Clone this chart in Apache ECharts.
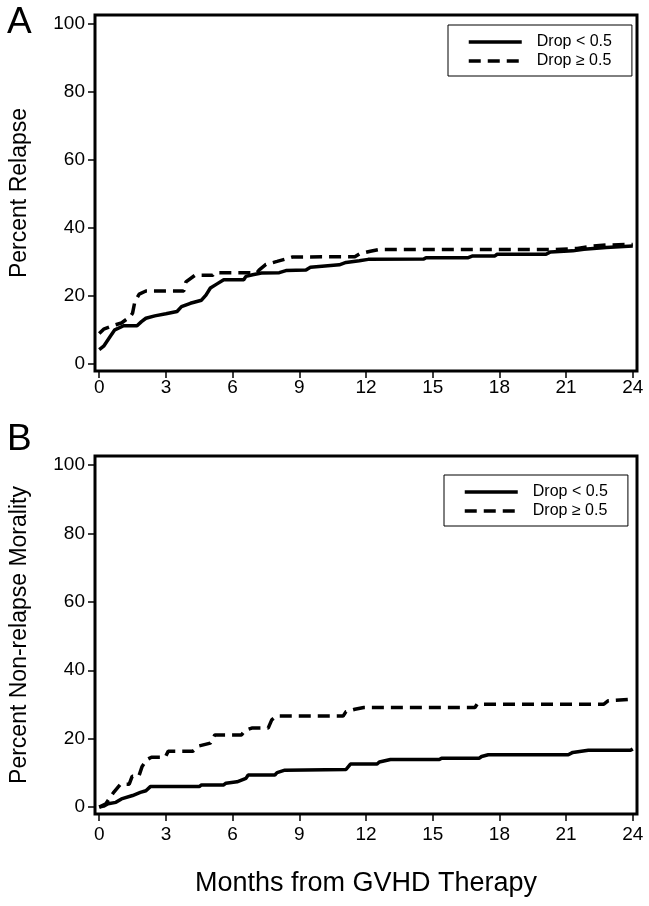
<!DOCTYPE html>
<html><head><meta charset="utf-8">
<script src="https://cdn.jsdelivr.net/npm/echarts@6/dist/echarts.min.js"></script>
<style>html,body{margin:0;padding:0;background:#fff}#c{width:649px;height:906px}</style>
</head><body><div id="c"></div>
<script>
// ---- data ----
const xTicks = [0, 3, 6, 9, 12, 15, 18, 21, 24];
const yTicks = [0, 20, 40, 60, 80, 100];
const seriesNames = ['Drop < 0.5', 'Drop \u2265 0.5'];
const panelLabels = ['A', 'B'];
const yTitles = ['Percent Relapse', 'Percent Non-relapse Morality'];
const xTitle = 'Months from GVHD Therapy';

// Panel A: relapse
const relapseLow = [[0,4.3],[0.2,5.3],[0.5,8.2],[0.7,10.1],[1.1,11.3],[1.7,11.3],[1.9,12.5],[2.1,13.5],[2.5,14.2],[3.0,14.8],[3.5,15.5],[3.7,16.9],[4.1,17.9],[4.6,18.8],[4.8,20.3],[5.0,22.4],[5.3,23.6],[5.6,24.8],[6.5,24.8],[6.6,25.8],[6.9,26.3],[7.3,26.8],[8.1,26.9],[8.4,27.5],[9.3,27.7],[9.5,28.5],[10.8,29.2],[11.1,29.9],[11.7,30.4],[12.1,30.8],[14.6,30.9],[14.7,31.3],[16.6,31.3],[16.8,31.8],[17.8,31.8],[17.9,32.3],[20.1,32.3],[20.3,33.0],[21.3,33.3],[21.8,33.8],[22.8,34.3],[24,34.7]];
const relapseHigh = [[0,9.0],[0.2,10.3],[0.6,11.3],[1.0,12.1],[1.4,14.0],[1.5,15.0],[1.6,18.3],[1.8,20.6],[2.1,21.5],[3.8,21.5],[3.9,24.2],[4.3,26.1],[5.1,26.1],[5.2,26.9],[7.1,26.9],[7.2,27.7],[7.5,29.3],[8.0,30.2],[8.7,31.5],[11.5,31.6],[11.7,32.4],[12.2,33.2],[12.6,33.7],[20.5,33.7],[21.5,34.0],[22.2,34.7],[22.8,35.0],[24,35.2]];

// Panel B: non-relapse mortality
const nrmLow = [[0,0],[0.2,0.3],[0.4,1.0],[0.75,1.4],[1.0,2.4],[1.5,3.4],[1.85,4.3],[2.1,4.8],[2.3,6.0],[4.5,6.0],[4.6,6.5],[5.6,6.5],[5.7,7.0],[6.2,7.4],[6.6,8.4],[6.7,9.4],[7.9,9.4],[8.0,10.1],[8.35,10.8],[11.1,11.0],[11.3,12.6],[12.5,12.6],[12.6,13.2],[13.1,13.9],[15.3,13.9],[15.4,14.3],[17.1,14.3],[17.2,14.8],[17.5,15.3],[21.1,15.3],[21.3,16.0],[22.0,16.6],[23.9,16.6],[24,17.0]];
const nrmHigh = [[0,0],[0.3,1.0],[0.45,2.5],[0.66,4.4],[0.96,6.7],[1.35,6.7],[1.48,9.0],[1.78,9.0],[1.93,11.9],[2.15,13.9],[2.35,14.6],[2.97,14.6],[3.1,16.3],[4.2,16.3],[4.5,17.9],[5.0,18.7],[5.2,21.1],[6.4,21.1],[6.55,22.4],[6.86,23.1],[7.6,23.1],[7.76,25.5],[7.98,26.6],[10.97,26.6],[11.1,27.9],[11.5,28.6],[11.9,29.1],[16.9,29.1],[17.0,30.1],[22.7,30.1],[22.9,31.1],[23.8,31.5],[24,31.7]];

// ---- chart ----
const FONT = 'Arial, "Liberation Sans", Helvetica, sans-serif';
const chart = echarts.init(document.getElementById('c'), null, {renderer: 'canvas'});

function xAxis(gi, labelMargin, withName) {
  const ax = {
    type: 'value', gridIndex: gi, min: -0.19, max: 24.19,
    axisLine: {show: false, onZero: false},
    axisTick: {show: true, length: 7, lineStyle: {color: '#000', width: 1.5}, customValues: xTicks},
    axisLabel: {show: true, margin: labelMargin, color: '#000', fontSize: 19, fontFamily: FONT, customValues: xTicks},
    splitLine: {show: false}
  };
  if (withName) {
    ax.name = xTitle; ax.nameLocation = 'middle'; ax.nameGap = 56;
    ax.nameTextStyle = {color: '#000', fontSize: 27, fontFamily: FONT};
  }
  return ax;
}
function yAxis(gi, title) {
  return {
    type: 'value', gridIndex: gi, min: -2, max: 102.6,
    axisLine: {show: false, onZero: false},
    axisTick: {show: true, length: 7, lineStyle: {color: '#000', width: 1.5}, customValues: yTicks},
    axisLabel: {show: true, margin: 10, color: '#000', fontSize: 19, fontFamily: FONT, customValues: yTicks},
    splitLine: {show: false},
    name: title, nameLocation: 'middle', nameGap: 64,
    nameTextStyle: {color: '#000', fontSize: 23, fontFamily: FONT}
  };
}
function line(name, gi, data, dashed) {
  return {
    type: 'line', name: name, xAxisIndex: gi, yAxisIndex: gi, data: data,
    symbol: 'none', showSymbol: false, smooth: false,
    lineStyle: {color: '#000', width: 3.5, type: dashed ? [12, 7] : 'solid', cap: 'butt'},
    itemStyle: {color: '#000'}
  };
}
function legend(left, top) {
  return {
    data: seriesNames, orient: 'vertical', left: left, top: top,
    padding: [9, 20, 7, 19], itemGap: 3, itemWidth: 53, itemHeight: 14,
    borderColor: '#000', borderWidth: 1, selectedMode: false,
    itemStyle: {opacity: 0, borderWidth: 0},
    lineStyle: {width: 3.5},
    textStyle: {color: '#000', fontSize: 16, fontFamily: FONT, padding: [0, 0, 0, 10]}
  };
}

chart.setOption({
  animation: false,
  backgroundColor: '#fff',
  grid: [
    {left: 95, right: 12, top: 15, height: 356, show: true, borderColor: '#000', borderWidth: 3, backgroundColor: 'transparent'},
    {left: 95, right: 12, top: 456, height: 358, show: true, borderColor: '#000', borderWidth: 3, backgroundColor: 'transparent'}
  ],
  xAxis: [xAxis(0, 7, false), xAxis(1, 11, true)],
  yAxis: [yAxis(0, yTitles[0]), yAxis(1, yTitles[1])],
  legend: [legend(448, 25), legend(444, 475)],
  series: [
    line(seriesNames[0], 0, relapseLow, false),
    line(seriesNames[1], 0, relapseHigh, true),
    line(seriesNames[0], 1, nrmLow, false),
    line(seriesNames[1], 1, nrmHigh, true)
  ],
  graphic: [
    {type: 'text', left: 7, top: 4, style: {text: panelLabels[0], fontSize: 37, fontFamily: FONT, fill: '#000'}},
    {type: 'text', left: 7, top: 421, style: {text: panelLabels[1], fontSize: 37, fontFamily: FONT, fill: '#000'}}
  ]
});
</script>
</body></html>
